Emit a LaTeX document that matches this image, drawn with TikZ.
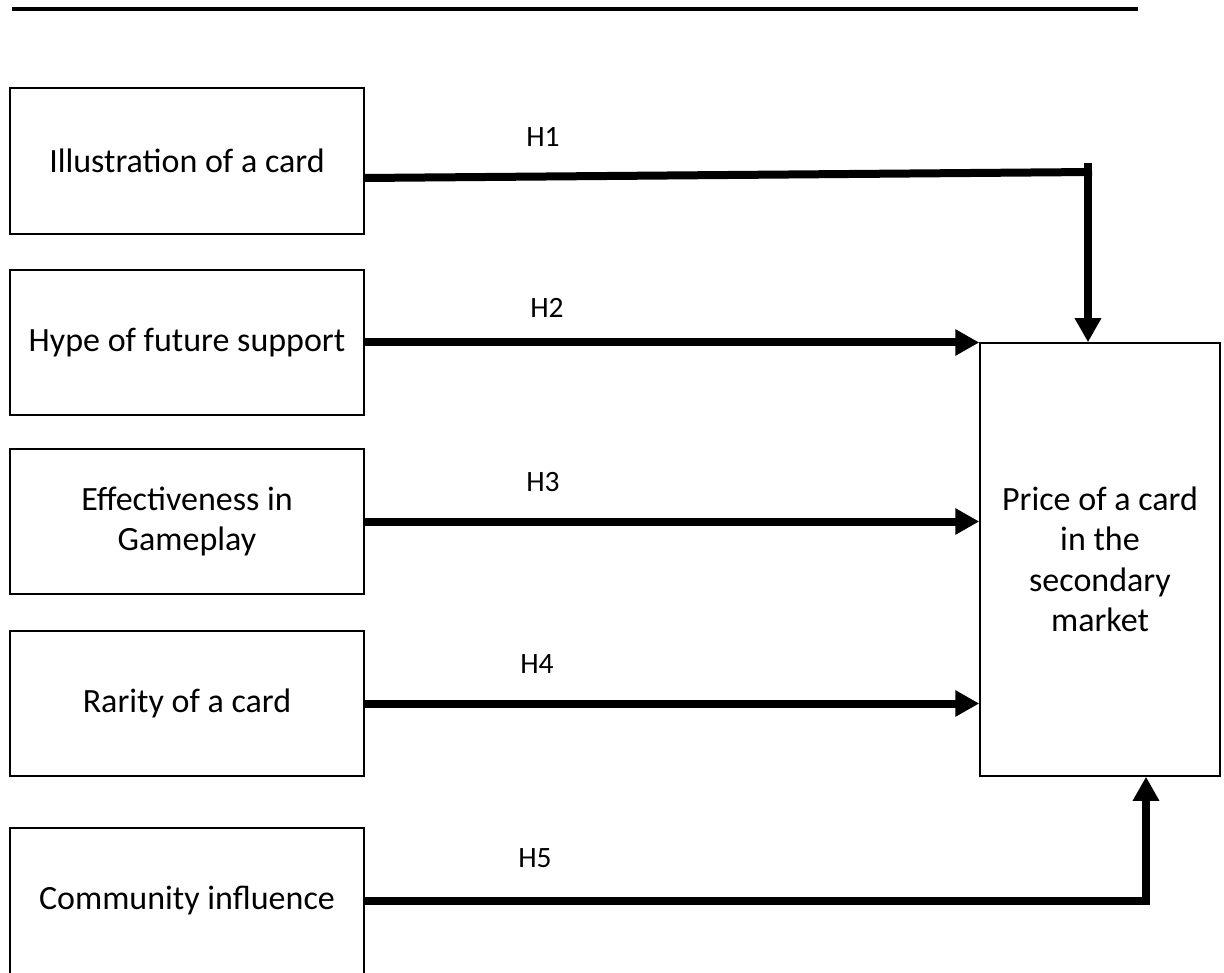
\documentclass[tikz,border=0pt]{standalone}
\usepackage{fontspec}
\setmainfont{Carlito}
\usetikzlibrary{arrows.meta,calc}
\begin{document}
\begin{tikzpicture}[x=1pt,y=-1pt,
  box/.style={draw, line width=1.5pt, minimum width=354pt, inner sep=0pt, align=center,
              font=\fontsize{34}{40.5}\selectfont},
  lbl/.style={inner sep=0pt, font=\fontsize{29.5}{34}\selectfont},
  thick line/.style={line width=8pt},
  conn/.style={line width=8pt, -{Triangle[length=24pt,width=25pt]}}]
\useasboundingbox (0,0) rectangle (1224,973);
% top rule
\coordinate (tl) at (12,9);
\coordinate (tr) at (1138,9);
\draw[line width=4pt] (tl) -- (tr);
% boxes
\node[box, minimum height=146pt] (box1) at (187,161) {Illustration of a card};
\node[box, minimum height=145pt] (box2) at (187,342.5) {Hype of future support};
\node[box, minimum height=145pt] (box3) at (187,521.5) {Effectiveness in\\Gameplay};
\node[box, minimum height=145pt] (box4) at (187,703.5) {Rarity of a card};
\node[box, minimum height=146pt] (box5) at (187,901) {Community influence};
\node[box, minimum width=240pt, minimum height=433pt] (price) at (1100,559.5)
  {Price of a card\\in the\\secondary\\market};
% H1
\coordinate (j1h) at (1092,172);
\coordinate (j1) at (1088,163);
\draw[thick line] ($(box1.east)+(0,17)$) -- (j1h);
\draw[conn] (j1) -- (j1 |- price.north);
% H2-H4
\draw[conn] (box2.east) -- (box2.east -| price.west);
\draw[conn] (box3.east) -- (box3.east -| price.west);
\draw[conn] (box4.east) -- (box4.east -| price.west);
% H5
\coordinate (c5) at (1146,901);
\draw[conn, line join=miter] (box5.east) -- (c5) -- (c5 |- price.south);
% labels
\node[lbl] (h1) at (543,137) {H1};
\node[lbl] (h2) at (547,308) {H2};
\node[lbl] (h3) at (543,482) {H3};
\node[lbl] (h4) at (537,664) {H4};
\node[lbl] (h5) at (535,858) {H5};
\end{tikzpicture}
\end{document}
